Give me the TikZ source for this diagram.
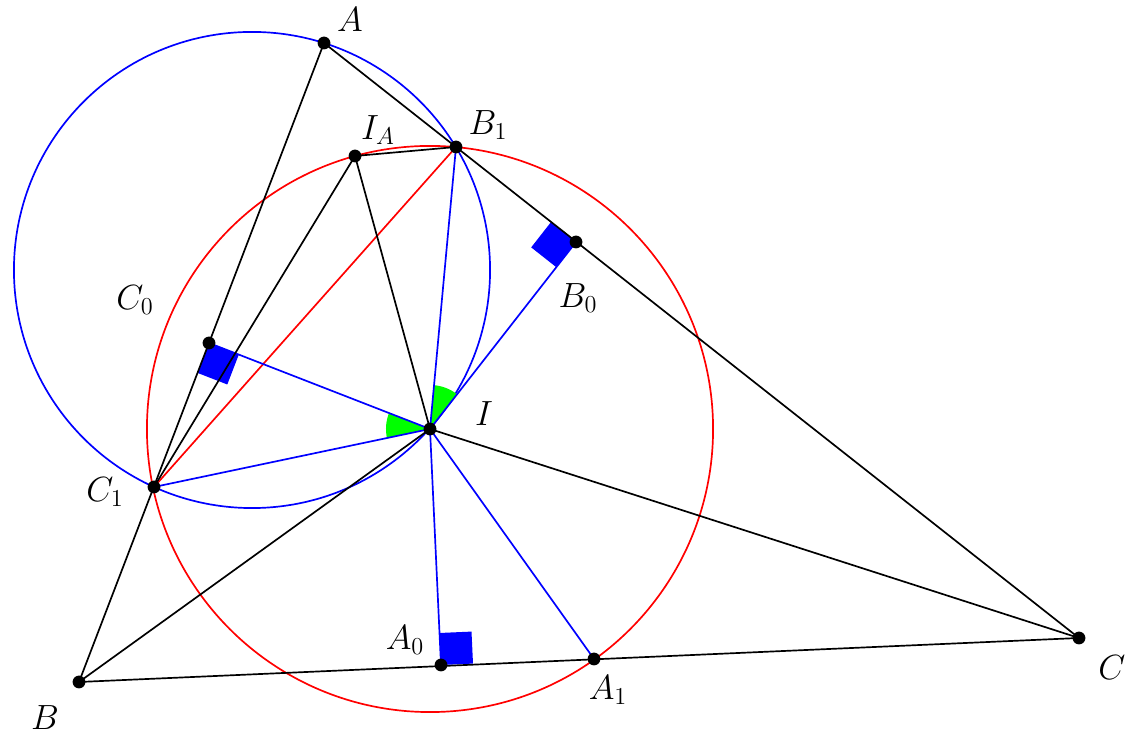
\documentclass[tikz,border=0pt]{standalone}
\begin{document}
\begin{tikzpicture}[x=0.025cm,y=0.025cm,
  blk/.style={line width=1.2pt,black},
  bl/.style={line width=1.2pt,blue},
  dot/.style={circle,fill=black,inner sep=0pt,minimum size=0.32cm},
  lab/.style={font=\huge,scale=1.2}]
\useasboundingbox (0,0) rectangle (1138,740);
\coordinate (A) at (324,697);
\coordinate (B) at (79,58);
\coordinate (C) at (1079,102);
\coordinate (I) at (430,311);
\coordinate (IA) at (355,584);
\coordinate (B1) at (456,593);
\coordinate (B0) at (576,498);
\coordinate (C0) at (209,397);
\coordinate (C1) at (154,253);
\coordinate (A0) at (441,75);
\coordinate (A1) at (594,81);
\coordinate (Oc) at (252,470);
% circles
\draw[red,line width=1.2pt] (I) circle (7.075cm);
\draw[blue,line width=1.2pt] (Oc) circle (5.95cm);
% right angle squares
\fill[blue] (441,75) -- (473,76.4) -- (471.5,108.4) -- (439.5,107) -- cycle;
\fill[blue] (576,498) -- (550.9,517.8) -- (531.2,492.6) -- (556.3,472.8) -- cycle;
\fill[blue] (209,397) -- (238.8,385.4) -- (227.3,355.5) -- (197.5,367.1) -- cycle;
% angles
\fill[green] (I) -- ++(158.7:1.1cm) arc (158.7:191.9:1.1cm) -- cycle;
\fill[green] (I) -- ++(52:1.1cm) arc (52:84.7:1.1cm) -- cycle;
% lines
\draw[red,line width=1.2pt] (C1) -- (B1);
\draw[bl] (I) -- (C0) (I) -- (B0) (I) -- (A0) (I) -- (A1) (I) -- (B1) (I) -- (C1);
\draw[blk] (A) -- (B) -- (C) -- cycle;
\draw[blk] (C1) -- (IA) -- (B1) (IA) -- (I) (B) -- (I) -- (C);
% dots
\foreach \p in {A,B,C,I,IA,B1,B0,C0,C1,A0,A1} \node[dot] at (\p) {};
% labels
\node[lab] at (350,720) {$A$};
\node[lab] at (378,610) {$I_A$};
\node[lab] at (488,615) {$B_1$};
\node[lab] at (578,442) {$B_0$};
\node[lab] at (135,440) {$C_0$};
\node[lab] at (484,326) {$I$};
\node[lab] at (105,248) {$C_1$};
\node[lab] at (405,100) {$A_0$};
\node[lab] at (608,50) {$A_1$};
\node[lab] at (45,22) {$B$};
\node[lab] at (1112,72) {$C$};
\end{tikzpicture}
\end{document}
